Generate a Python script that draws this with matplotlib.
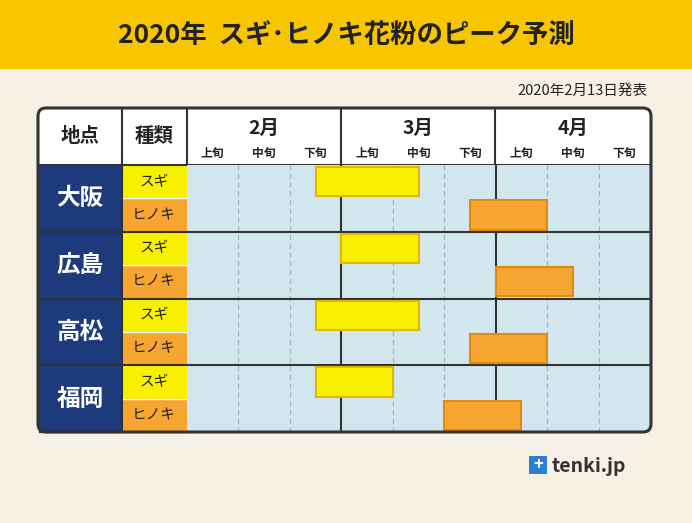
import matplotlib
matplotlib.use("Agg")
import matplotlib.pyplot as plt
from matplotlib.patches import Rectangle, FancyBboxPatch

plt.rcParams["font.family"] = "Noto Sans CJK JP"

locations = ["大阪", "広島", "高松", "福岡"]
types = ["スギ", "ヒノキ"]
months = ["2月", "3月", "4月"]
dekads = ["上旬", "中旬", "下旬"]
# start / end in dekad units (0 = early Feb)
sugi_start = [2.5, 3.0, 2.5, 2.5]
sugi_end = [4.5, 4.5, 4.5, 4.0]
hinoki_start = [5.5, 6.0, 5.5, 5.0]
hinoki_end = [7.0, 7.5, 7.0, 6.5]

W, H = 692, 523
fig = plt.figure(figsize=(W/100, H/100), dpi=100)
fig.patch.set_facecolor("#f6f1e4")

bg = fig.add_axes([0, 0, 1, 1])
bg.set_xlim(0, W); bg.set_ylim(H, 0); bg.axis("off")
navy = "#1d3b7c"
dark = "#333333"

bg.add_patch(Rectangle((0, 0), W, 68, color="#f7c600"))
bg.text(W/2, 36, "2020年  スギ･ヒノキ花粉のピーク予測", ha="center", va="center",
        fontsize=19, fontweight="bold", color="#222222")
bg.text(648, 91, "2020年2月13日発表", ha="right", va="center", fontsize=10.5, color="#222222")

L, T, R, B = 38, 108, 651, 432
bg.add_patch(FancyBboxPatch((L, T), R-L, B-T, boxstyle="round,pad=0,rounding_size=8",
                            fc="white", ec="none", zorder=1))
bg.text(80, 137, "地点", ha="center", va="center", fontsize=14, fontweight="bold", color="#222")
bg.text(154, 137, "種類", ha="center", va="center", fontsize=14, fontweight="bold", color="#222")
gx0, gx1 = 187, 650
dw = (gx1-gx0)/9
for m, name in enumerate(months):
    cx = gx0 + (m*3+1.5)*dw
    bg.text(cx, 128, name, ha="center", va="center", fontsize=14, fontweight="bold", color="#222")
    for d, dn in enumerate(dekads):
        bg.text(gx0 + (m*3+d+0.5)*dw, 153, dn, ha="center", va="center", fontsize=8.5,
                fontweight="bold", color="#222")
for x in [122, 187, 341, 495]:
    bg.plot([x, x], [T, 165], color=dark, lw=1.5, zorder=3)
bg.plot([L, R], [165, 165], color=dark, lw=1.5, zorder=3)

rowh = (B-165)/4
for i, loc in enumerate(locations):
    y0 = 165 + i*rowh
    bg.add_patch(Rectangle((L+1, y0), 122-L-1, rowh, color=navy, zorder=2))
    bg.text(80, y0+rowh/2, loc, ha="center", va="center", fontsize=17, fontweight="bold",
            color="white", zorder=4)
    bg.add_patch(Rectangle((122, y0), 65, rowh/2, color="#f7f000", zorder=2))
    bg.add_patch(Rectangle((122, y0+rowh/2), 65, rowh/2, color="#f7a531", zorder=2))
    bg.text(154, y0+rowh/4, types[0], ha="center", va="center", fontsize=10.5, color="#222", zorder=4)
    bg.text(154, y0+3*rowh/4, types[1], ha="center", va="center", fontsize=10.5, color="#222", zorder=4)
    bg.plot([122, 187], [y0+rowh/2, y0+rowh/2], color="white", lw=1, zorder=3)
    if i > 0:
        bg.plot([L, 187], [y0, y0], color=dark, lw=1.5, zorder=5)
bg.plot([122, 122], [165, B], color=dark, lw=1.5, zorder=5)

# logo
bg.add_patch(Rectangle((529, 456), 18, 18, fc="#2a7fd0", ec="none", zorder=3))
bg.text(538, 465, "+", ha="center", va="center", color="white", fontsize=12, fontweight="bold", zorder=4)
bg.text(552, 466, "tenki.jp", ha="left", va="center", fontsize=14, fontweight="bold", color="#333")

# grid axes
ax = fig.add_axes([gx0/W, 1-B/H, (gx1-gx0)/W, (B-165)/H])
ax.set_facecolor("#d2e6ee")
ax.set_xlim(0, 9); ax.set_ylim(8, 0)
ax.set_xticks([]); ax.set_yticks([])
for s in ax.spines.values():
    s.set_visible(False)
for k in range(1, 9):
    if k % 3 == 0:
        ax.axvline(k, color=dark, lw=1.5)
    else:
        ax.axvline(k, color="#9ab4c0", lw=0.9, ls=(0, (4, 3)))
for k in (2, 4, 6):
    ax.axhline(k, color=dark, lw=1.5)
for i in range(4):
    ax.barh(2*i+0.5, sugi_end[i]-sugi_start[i], left=sugi_start[i], height=0.88,
            color="#f8f000", edgecolor="#e0b800", lw=1.5, zorder=3)
    ax.barh(2*i+1.5, hinoki_end[i]-hinoki_start[i], left=hinoki_start[i], height=0.88,
            color="#f7a531", edgecolor="#e08a10", lw=1.5, zorder=3)

# frame on top
top = fig.add_axes([0, 0, 1, 1]); top.set_xlim(0, W); top.set_ylim(H, 0); top.axis("off")
top.patch.set_alpha(0)
top.add_patch(FancyBboxPatch((L, T), R-L, B-T, boxstyle="round,pad=0,rounding_size=8",
                             fc="none", ec=dark, lw=2.2))
# mask corners outside rounded frame at bottom
fig.savefig("out.png", dpi=100, facecolor=fig.get_facecolor())
